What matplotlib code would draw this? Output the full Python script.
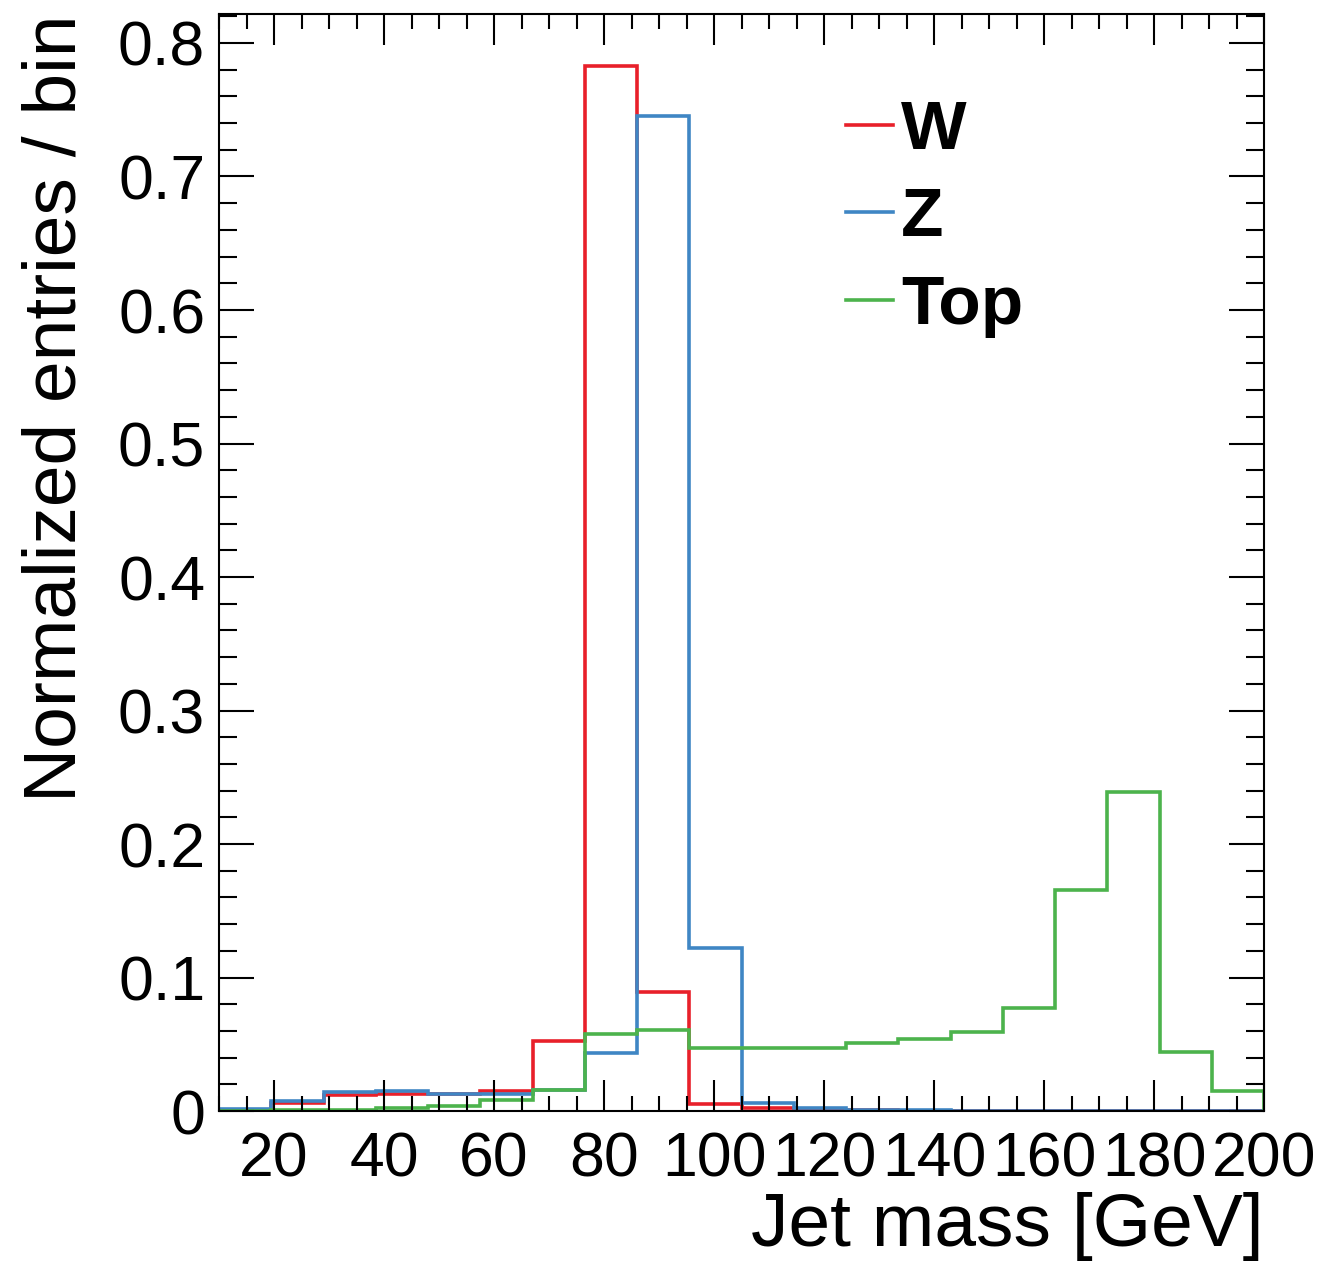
import matplotlib
matplotlib.use("Agg")
import matplotlib.pyplot as plt
from matplotlib.ticker import MultipleLocator, FuncFormatter

plt.rcParams['font.family'] = ['Liberation Sans', 'DejaVu Sans']

# bin edges of the jet mass histogram (GeV)
edges = [10, 19.5, 29, 38.5, 48, 57.5, 67, 76.5, 86, 95.5, 105,
         114.5, 124, 133.5, 143, 152.5, 162, 171.5, 181, 190.5, 200]

w_vals = [0.001, 0.006, 0.012, 0.013, 0.0125, 0.015, 0.0525, 0.783, 0.089, 0.005,
          0.002, 0.001, 0.0005, 0.0003, 0.0002, 0.0001, 0.0001, 0.0, 0.0, 0.0]
z_vals = [0.0015, 0.0075, 0.014, 0.015, 0.013, 0.0125, 0.016, 0.0435, 0.745, 0.122,
          0.006, 0.002, 0.001, 0.0005, 0.0003, 0.0002, 0.0001, 0.0001, 0.0, 0.0]
top_vals = [0.0003, 0.0005, 0.001, 0.0025, 0.004, 0.008, 0.016, 0.0577, 0.0607, 0.0475,
            0.047, 0.047, 0.051, 0.054, 0.0595, 0.077, 0.1655, 0.239, 0.0445, 0.0148]

labels = ["W", "Z", "Top"]
colors = ["#e8202a", "#3f86c4", "#4cb34c"]

fig = plt.figure(figsize=(13.25, 12.62), dpi=100)
ax = fig.add_axes([0.1653, 0.1196, 0.954 - 0.1653, 0.9889 - 0.1196])

for vals, lab, col in zip([w_vals, z_vals, top_vals], labels, colors):
    ax.stairs(vals, edges, color=col, linewidth=2.6, label=lab)

ax.set_xlim(10, 200)
ax.set_ylim(0, 0.8217)

ax.xaxis.set_major_locator(MultipleLocator(20))
ax.xaxis.set_minor_locator(MultipleLocator(5))
ax.yaxis.set_major_locator(MultipleLocator(0.1))
ax.yaxis.set_minor_locator(MultipleLocator(0.02))
ax.yaxis.set_major_formatter(FuncFormatter(lambda v, p: "0" if abs(v) < 1e-9 else "%.1f" % v))

ax.tick_params(which="both", direction="in", top=True, right=True, width=1.5, labelsize=45)
ax.tick_params(axis="x", which="major", length=22, pad=14)
ax.tick_params(axis="x", which="minor", length=11)
ax.tick_params(axis="y", which="major", length=25, pad=10)
ax.tick_params(axis="y", which="minor", length=13)
for sp in ax.spines.values():
    sp.set_linewidth(1.5)

ax.set_xlabel("Jet mass [GeV]", fontsize=54, loc="right", labelpad=2)
ax.set_ylabel("Normalized entries / bin", fontsize=54, loc="top", labelpad=20)

leg = ax.legend(loc="upper left", bbox_to_anchor=(0.573, 0.948), frameon=False,
                prop={"weight": "bold", "size": 50}, handlelength=0.68,
                handletextpad=0.12, labelspacing=0.34, borderaxespad=0)

fig.savefig("out.png", dpi=100)
